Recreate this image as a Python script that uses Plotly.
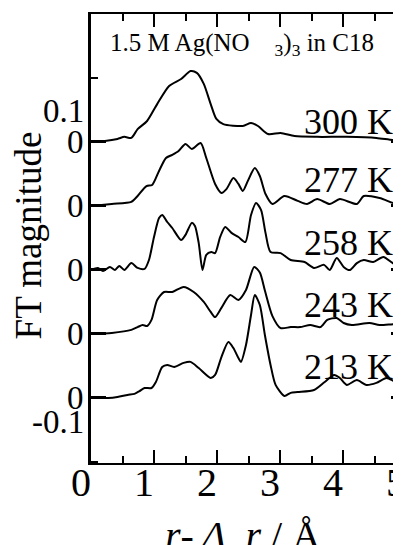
import plotly.graph_objects as go

# ---------------- data ----------------
TEMPS = ["300 K", "277 K", "258 K", "243 K", "213 K"]
OFFSETS = [1.0, 0.75, 0.5, 0.25, 0.0]

R_300 = [0, 0.22, 0.42, 0.53, 0.64, 0.74, 0.89, 1.05, 1.24, 1.43, 1.58, 1.68, 1.79, 1.90, 1.99, 2.10,
         2.41, 2.54, 2.65, 2.81, 3.01, 3.23, 3.59, 4.06, 4.53, 4.80, 5.0]
V_300 = [0, 0.004, 0.012, 0.02, 0.016, 0.05, 0.082, 0.148, 0.219, 0.246, 0.277, 0.27, 0.227, 0.148, 0.09, 0.07,
         0.0625, 0.074, 0.0625, 0.031, 0.035, 0.023, 0.02, 0.02, 0.016, 0.008, 0.008]

R_277 = [0, 0.33, 0.64, 0.74, 0.88, 0.97, 1.08, 1.19, 1.29, 1.39, 1.50, 1.60, 1.74, 1.83, 1.97, 2.07, 2.15,
         2.26, 2.34, 2.41, 2.49, 2.60, 2.68, 2.77, 2.88, 3.07, 3.28, 3.43, 3.59, 3.79, 3.95, 4.22, 4.33,
         4.58, 4.84, 5.0]
V_277 = [0, 0.008, 0.016, 0.039, 0.078, 0.082, 0.137, 0.1875, 0.2, 0.215, 0.242, 0.223, 0.246, 0.1875, 0.086,
         0.051, 0.066, 0.109, 0.086, 0.059, 0.098, 0.148, 0.117, 0.047, 0.008, 0.039, 0.02, 0.008, 0.027,
         0.008, 0.027, 0.008, 0.039, 0.031, 0.008, 0.004]

R_258 = [0, 0.11, 0.19, 0.30, 0.38, 0.45, 0.53, 0.64, 0.74, 0.85, 0.92, 1.00, 1.08, 1.13, 1.21, 1.29, 1.43,
         1.50, 1.60, 1.65, 1.71, 1.77, 1.83, 1.91, 1.97, 2.05, 2.13, 2.23, 2.34, 2.45, 2.54, 2.62, 2.70,
         2.77, 2.85, 3.01, 3.17, 3.39, 3.54, 3.70, 3.79, 3.90, 4.01, 4.11, 4.22, 4.33, 4.48, 4.64, 4.84, 5.0]
V_258 = [0, 0.008, -0.004, 0.012, 0, 0.016, 0, 0.027, 0.008, 0.004, 0.039, 0.129, 0.203, 0.215, 0.1875, 0.164,
         0.117, 0.137, 0.184, 0.172, 0.105, 0.0, 0.059, 0.07, 0.066, 0.129, 0.168, 0.145, 0.129, 0.109, 0.215,
         0.262, 0.234, 0.145, 0.07, 0.066, 0.039, 0.031, 0.008, 0.02, 0.0, 0.047, 0.012, 0.0, 0.027, 0.039,
         0.031, 0.051, 0.02, 0.031]

R_243 = [0, 0.33, 0.64, 0.74, 0.82, 0.89, 0.96, 1.05, 1.16, 1.29, 1.47, 1.63, 1.79, 1.90, 1.97, 2.07, 2.21,
         2.34, 2.46, 2.59, 2.68, 2.76, 2.88, 3.01, 3.17, 3.32, 3.48, 3.64, 3.75, 3.90, 4.01, 4.14, 4.42,
         4.58, 4.84, 5.0]
V_243 = [0, 0.004, 0.016, 0.027, 0.035, 0.031, 0.055, 0.133, 0.164, 0.164, 0.184, 0.164, 0.125, 0.086, 0.066,
         0.102, 0.152, 0.133, 0.172, 0.262, 0.24, 0.17, 0.07, 0.023, 0.027, 0.027, 0.035, 0.027, 0.055, 0.0625,
         0.043, 0.035, 0.043, 0.035, 0.039, 0.035]

R_213 = [0, 0.27, 0.42, 0.58, 0.69, 0.77, 0.85, 0.96, 1.03, 1.13, 1.21, 1.32, 1.47, 1.58, 1.71, 1.90, 1.97,
         2.07, 2.18, 2.26, 2.34, 2.38, 2.46, 2.54, 2.60, 2.68, 2.76, 2.85, 2.93, 3.07, 3.17, 3.28, 3.54,
         3.71, 3.86, 3.95, 4.06, 4.22, 4.37, 4.53, 4.69, 4.84, 5.0]
V_213 = [0, 0, 0.004, 0.012, 0.016, 0.027, 0.039, 0.039, 0.0625, 0.121, 0.129, 0.121, 0.137, 0.141, 0.117,
         0.078, 0.09, 0.16, 0.219, 0.195, 0.156, 0.141, 0.207, 0.324, 0.402, 0.363, 0.246, 0.129, 0.051, 0.008,
         0.02, 0.023, 0.031, 0.0625, 0.09, 0.078, 0.051, 0.07, 0.051, 0.059, 0.078, 0.0625, 0.059]

SERIES_R = [R_300, R_277, R_258, R_243, R_213]
SERIES_V = [V_300, V_277, V_258, V_243, V_213]

X_TICKS = [0, 1, 2, 3, 4, 5]
Y_LABEL_TEXT = ["0.1", "0", "0", "0", "0", "0", "-0.1"]
Y_LABEL_POS = [1.12, 1.0, 0.75, 0.5, 0.25, 0.0, -0.095]
LABEL_POS = [1.078, 0.852, 0.605, 0.363, 0.121]

SERIF = "Liberation Serif, Times New Roman, serif"

fig = go.Figure()
for r, v, off in zip(SERIES_R, SERIES_V, OFFSETS):
    fig.add_trace(go.Scatter(
        x=r, y=[val + off for val in v], mode="lines",
        line=dict(color="black", width=2, shape="spline", smoothing=0.7),
        showlegend=False, hoverinfo="skip", cliponaxis=True))

annotations = []
for txt, yv in zip(TEMPS, LABEL_POS):
    annotations.append(dict(x=3.35, y=yv, xref="x", yref="y", text=txt, showarrow=False,
                            xanchor="left", yanchor="middle",
                            font=dict(family=SERIF, size=36, color="black")))
for txt, yv in zip(Y_LABEL_TEXT, Y_LABEL_POS):
    annotations.append(dict(x=0, y=yv, xref="paper", yref="y", text=txt, showarrow=False,
                            xanchor="right", yanchor="middle", xshift=-5,
                            font=dict(family=SERIF, size=33, color="black")))
annotations.append(dict(x=0.053, y=0.933, xref="paper", yref="paper",
                        text="1.5 M Ag(NO&nbsp;&nbsp;&nbsp;&nbsp;<sub>3</sub>)<sub>3</sub> in C18",
                        showarrow=False, xanchor="left", yanchor="middle",
                        font=dict(family=SERIF, size=25, color="black")))
annotations.append(dict(x=-0.198, y=0.506, xref="paper", yref="paper", text="FT magnitude",
                        textangle=-90, showarrow=False, xanchor="center", yanchor="middle",
                        font=dict(family=SERIF, size=37, color="black")))
annotations.append(dict(x=0.484, y=-0.162, xref="paper", yref="paper",
                        text="<i>r</i>-\u2009<i>Δ</i>\u00a0\u00a0<i>r</i> / Å",
                        showarrow=False, xanchor="center", yanchor="middle",
                        font=dict(family=SERIF, size=40, color="black")))

# the page body has an 8 px margin; the plot is placed so that its left axis sits at x=91
fig.update_layout(
    width=401, height=545,
    margin=dict(l=83, r=0, t=6, b=90),
    paper_bgcolor="white", plot_bgcolor="white",
    annotations=annotations,
    xaxis=dict(range=[0, 5.0], tickvals=X_TICKS, ticks="inside", ticklen=13, tickwidth=1.5,
               tickcolor="black", showline=True, linecolor="black", linewidth=2, mirror="allticks",
               showgrid=False, zeroline=False, ticklabelshift=-10, ticklabelstandoff=-17,
               tickfont=dict(family=SERIF, size=40, color="black"),
               minor=dict(dtick=0.5, tick0=0, ticks="inside", ticklen=7, tickwidth=1.5,
                          tickcolor="black", showgrid=False)),
    yaxis=dict(range=[-0.254, 1.5], tickvals=OFFSETS, ticks="inside", ticklen=15, tickwidth=2.5,
               tickcolor="black", showline=True, linecolor="black", linewidth=2.5, mirror="ticks",
               showgrid=False, zeroline=False, showticklabels=False,
               minor=dict(dtick=0.25, tick0=0, ticks="inside", ticklen=7, tickwidth=1.5,
                          tickcolor="black", showgrid=False)),
)

fig.write_html("out.html")
